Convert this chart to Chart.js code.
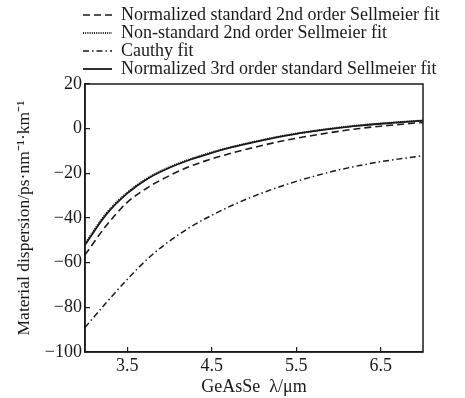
<!DOCTYPE html>
<html>
<head>
<meta charset="utf-8">
<script src="https://cdn.jsdelivr.net/npm/chart.js@4/dist/chart.umd.min.js"></script>
<style>
  html, body { margin: 0; padding: 0; background: #fff; }
  #wrap { width: 465px; height: 398px; }
</style>
</head>
<body>
<div id="wrap"><canvas id="dispChart"></canvas></div>
<script>
// wavelength samples (um)
const wavelengths = [3.0, 3.25, 3.5, 3.75, 4.0, 4.25, 4.5, 4.75, 5.0, 5.25, 5.5, 5.75, 6.0, 6.25, 6.5, 6.75, 7.0];

// material dispersion, ps/(nm km)
const norm2nd = [-56.5, -43.5, -33.0, -26.2, -21.0, -16.8, -13.5, -10.8, -8.4, -6.2, -4.3, -2.7, -1.2, 0.1, 1.1, 2.0, 2.8];
const nonStd2nd = [-51.5, -38.0, -28.6, -21.9, -17.2, -13.6, -10.6, -8.1, -5.9, -3.9, -2.2, -0.8, 0.5, 1.5, 2.3, 3.0, 3.7];
const cauchy = [-89.0, -78.0, -67.5, -58.0, -50.3, -44.0, -38.8, -34.2, -30.2, -26.7, -23.6, -20.9, -18.5, -16.5, -14.8, -13.4, -12.1];
const norm3rd = [-52.0, -38.5, -29.0, -22.2, -17.5, -13.8, -10.8, -8.2, -6.0, -4.0, -2.3, -0.9, 0.4, 1.4, 2.2, 2.9, 3.6];

const seriesNames = [
    "Normalized standard 2nd order Sellmeier fit",
    "Non-standard 2nd order Sellmeier fit",
    "Cauthy fit",
    "Normalized 3rd order standard Sellmeier fit",
];

const xTicks = [3.5, 4.5, 5.5, 6.5];
const yTicks = [-100, -80, -60, -40, -20, 0, 20];

const ink = "#1a1a1a";
const serif = "'Liberation Serif', 'Times New Roman', serif";

const toPoints = (ys) => wavelengths.map((x, i) => ({ x, y: ys[i] }));

// box around the plot area
const frame = {
    id: "frame",
    afterDatasetsDraw(chart) {
        const { ctx, chartArea: a } = chart;
        ctx.save();
        ctx.strokeStyle = ink;
        ctx.lineWidth = 1.5;
        ctx.strokeRect(a.left, a.top, a.right - a.left, a.bottom - a.top);
        ctx.restore();
    },
};

// legend sits tight on top of the plot, and may run past its right edge
const tightLegend = {
    id: "tightLegend",
    beforeLayout(chart) {
        const lg = chart.legend;
        if (!lg || lg._tight) return;
        const fit = lg.fit;
        lg.fit = function () {
            fit.call(this);
            this.height -= 4;
        };
        lg._tight = true;
    },
    afterLayout(chart) {
        const lg = chart.legend;
        if (!lg) return;
        lg.left = 83;
        lg.right = chart.width;
        lg.width = lg.right - lg.left;
    },
};

const line = (label, ys, dash, width) => ({
    label,
    data: toPoints(ys),
    borderColor: ink,
    backgroundColor: ink,
    borderWidth: width,
    borderDash: dash,
    pointRadius: 0,
    fill: false,
    cubicInterpolationMode: "monotone",
});

// line samples in the legend keep the dataset's dash pattern
const legendLabels = (chart) =>
    Chart.defaults.plugins.legend.labels.generateLabels(chart).map((item) => {
        const ds = chart.data.datasets[item.datasetIndex];
        return { ...item, lineDash: ds.borderDash, lineWidth: ds.borderWidth, strokeStyle: ink };
    });

Chart.defaults.color = ink;
Chart.defaults.font.family = serif;

new Chart("dispChart", {
    type: "line",
    data: {
        datasets: [
            line(seriesNames[0], norm2nd, [7, 4], 1.6),
            line(seriesNames[1], nonStd2nd, [1, 1.2], 2),
            line(seriesNames[2], cauchy, [6, 3, 1.5, 3], 1.5),
            line(seriesNames[3], norm3rd, [], 1.8),
        ],
    },
    options: {
        responsive: true,
        maintainAspectRatio: false,
        animation: false,
        layout: { padding: { left: 0, right: 42, top: 6, bottom: 0 } },
        plugins: {
            tooltip: { enabled: false },
            legend: {
                position: "top",
                align: "start",
                fullSize: false,
                labels: {
                    usePointStyle: true,
                    pointStyle: "line",
                    pointStyleWidth: 29,
                    padding: 0,
                    color: ink,
                    font: { size: 18, family: serif },
                    generateLabels: legendLabels,
                },
            },
        },
        scales: {
            x: {
                type: "linear",
                min: 3,
                max: 7,
                afterBuildTicks: (axis) => { axis.ticks = xTicks.map((v) => ({ value: v })); },
                afterFit: (axis) => { axis.height = 46; },
                grid: { drawOnChartArea: false, drawTicks: true, tickLength: -5, color: ink, lineWidth: 1.2 },
                border: { display: true, color: ink, width: 1.5 },
                ticks: {
                    padding: 8,
                    maxRotation: 0,
                    font: { size: 18, family: serif },
                    callback: (v) => v.toFixed(1),
                },
                title: {
                    display: true,
                    text: "GeAsSe  λ/μm",
                    font: { size: 18, family: serif },
                    padding: { top: 0, bottom: 0 },
                },
            },
            y: {
                min: -100,
                max: 20,
                afterBuildTicks: (axis) => { axis.ticks = yTicks.map((v) => ({ value: v })); },
                afterFit: (axis) => { axis.width = 85; },
                grid: { drawOnChartArea: false, drawTicks: true, tickLength: -5, color: ink, lineWidth: 1.2 },
                border: { display: true, color: ink, width: 1.5 },
                ticks: {
                    padding: 8,
                    font: { size: 18, family: serif },
                    callback: (v) => (v < 0 ? "\u2212" + Math.abs(v) : String(v)),
                },
                title: {
                    display: true,
                    text: "Material dispersion/ps·nm⁻¹·km⁻¹",
                    font: { size: 17.5, family: serif },
                    padding: { top: 14, bottom: 0 },
                },
            },
        },
    },
    plugins: [frame, tightLegend],
});
</script>
</body>
</html>
